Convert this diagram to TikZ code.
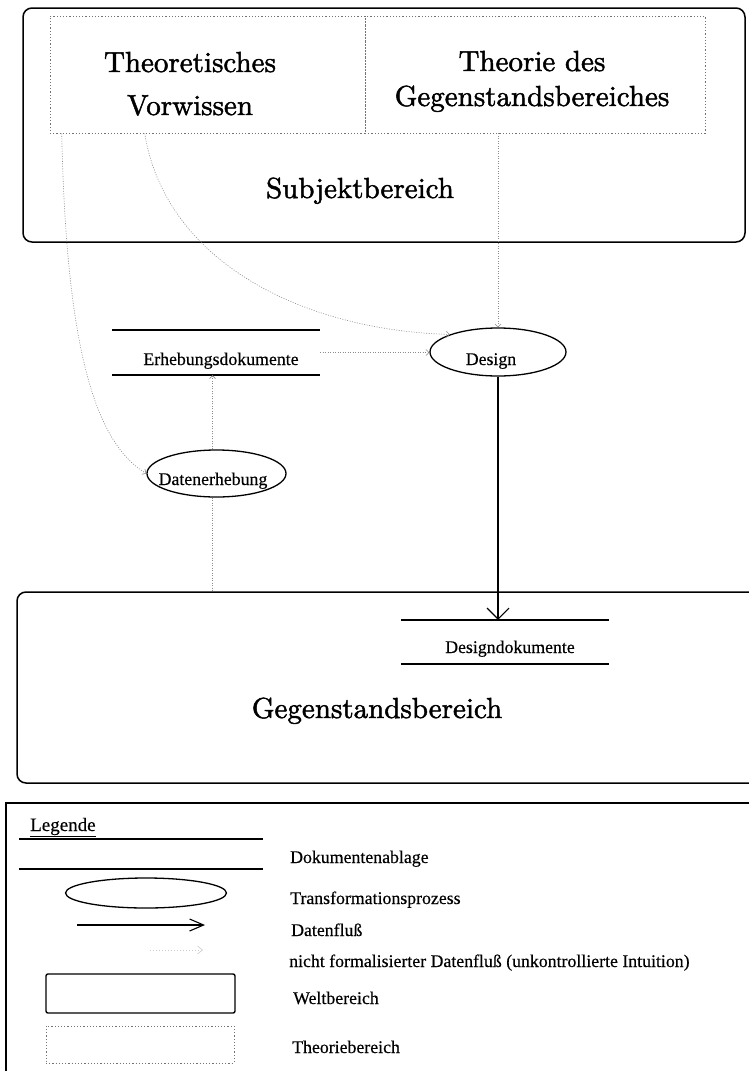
\documentclass[tikz,border=0pt]{standalone}
\usepackage{fontspec}
\newfontfamily\tm[FakeBold=0.4]{Liberation Serif}
\newfontfamily\bigfont[FakeBold=1.6]{lmroman10-regular.otf}
\usetikzlibrary{arrows.meta,calc,shapes.geometric}
\begin{document}
\begin{tikzpicture}[x=1pt,y=-1pt,
  world/.style={draw,line width=1.5pt,rounded corners=9pt,inner sep=0pt},
  theory/.style={draw=black!55,line width=0.6pt,dash pattern=on 1.2pt off 2pt,inner sep=0pt},
  proc/.style={draw,ellipse,line width=1.3pt,inner sep=0pt},
  docbox/.style={inner sep=0pt},
  docline/.style={line width=1.5pt},
  flow/.style={line width=1.1pt,-{Straight Barb[length=11pt,width=22pt,line width=1.1pt]}},
  intuit/.style={black!45,line width=0.6pt,dash pattern=on 1pt off 1.5pt},
  itip/.style={-{Straight Barb[length=3pt,width=6pt,line width=0.6pt]}},
  big/.style={font=\bigfont\fontsize{29}{34}\selectfont,inner sep=0pt,anchor=base},
  small/.style={font=\tm\fontsize{17.8}{20}\selectfont,inner sep=0pt,anchor=base},
  legtext/.style={font=\tm\fontsize{17.8}{20}\selectfont,inner sep=0pt,anchor=base west}
]
\useasboundingbox (0,0) rectangle (749,1071);
\clip (0,0) rectangle (749,1071);

% Subjektbereich
\node[world,minimum width=722pt,minimum height=234pt] (subj) at (384,125) {};
\node[theory,minimum width=315pt,minimum height=117pt] (tv) at (207.5,74.5) {};
\node[theory,minimum width=340pt,minimum height=117pt] (tg) at (535,74.5) {};
\node[big] (tvl1) at (190,72) {Theoretisches};
\node[big] (tvl2) at (190,115) {Vorwissen};
\node[big] (tgl1) at (532,71) {Theorie des};
\node[big] (tgl2) at (532,106) {Gegenstandsbereiches};
\node[big] (subjl) at (360,198) {Subjektbereich};

% Erhebungsdokumente
\node[docbox,minimum width=208pt,minimum height=45pt] (erh) at (216,352.5) {};
\draw[docline] (erh.north west) -- (erh.north east);
\draw[docline] (erh.south west) -- (erh.south east);
\node[small] (erhl) at (221,365) {Erhebungsdokumente};

% Design
\node[proc,minimum width=136pt,minimum height=48pt] (design) at (498,352) {};
\node[small] (designl) at (491,365) {Design};

% Datenerhebung
\node[proc,minimum width=139pt,minimum height=47pt] (de) at (216.5,473.5) {};
\node[small] (del) at (213,485) {Datenerhebung};

% Gegenstandsbereich
\node[world,minimum width=743pt,minimum height=191pt] (gg) at (388.5,687.5) {};
\node[big] (ggl) at (377,718) {Gegenstandsbereich};

% Designdokumente
\node[docbox,minimum width=208pt,minimum height=44pt] (dd) at (505,642) {};
\draw[docline] (dd.north west) -- (dd.north east);
\draw[docline] (dd.south west) -- (dd.south east);
\node[small] (ddl) at (510,653) {Designdokumente};

% connectors
\coordinate (dtop) at ([xshift=-4pt]de.north);
\coordinate (dbot) at ([xshift=-4pt]de.south);
\draw[intuit,itip] (tg.south -| design.north) -- (design.north);
\draw[intuit,itip] ([xshift=95pt]tv.south west) .. controls (165,260) and (300,330) .. (design.160);
\draw[intuit,itip] ([xshift=12pt]tv.south west) .. controls (66,330) and (90,440) .. (de.west);
\draw[intuit,itip] (erh.east) -- (erh.east -| design.west);
\draw[intuit,itip] (dtop) -- (dtop |- erh.south);
\draw[intuit] (dbot) -- (dbot |- gg.north);
\draw[flow] (design.south) -- (design.south |- dd.north);

% Legend
\node[draw,line width=1.4pt,inner sep=0pt,minimum width=754pt,minimum height=287pt] (leg) at (383,946.5) {};
\node[font=\tm\fontsize{19}{22}\selectfont,inner sep=0pt,anchor=base west] (legl) at (30,831) {\underline{Legende}};
\node[docbox,minimum width=244pt,minimum height=30pt] (legdoc) at (141,854) {};
\draw[docline] (legdoc.north west) -- (legdoc.north east);
\draw[docline] (legdoc.south west) -- (legdoc.south east);
\node[legtext] (t1) at (290,863) {Dokumentenablage};
\node[proc,minimum width=161pt,minimum height=30pt] (legproc) at (146,893) {};
\node[legtext] (t2) at (290,904) {Transformationsprozess};
\coordinate (lf1) at (77,925);
\coordinate (lf2) at (205,925);
\draw[line width=1.1pt,-{Straight Barb[length=14pt,width=12pt,line width=1.1pt]}] (lf1) -- (lf2);
\node[legtext] (t3) at (291,936) {Datenfluß};
\coordinate (li1) at (150,950);
\coordinate (li2) at (203,950);
\draw[black!20,line width=0.6pt,dash pattern=on 1pt off 2pt,-{Straight Barb[length=5pt,width=8pt,line width=0.6pt]}] (li1) -- (li2);
\node[legtext] (t4) at (289,967) {nicht formalisierter Datenfluß (unkontrollierte Intuition)};
\node[draw,line width=1.4pt,rounded corners=2pt,inner sep=0pt,minimum width=189pt,minimum height=39pt] (legworld) at (140.5,993.5) {};
\node[legtext] (t5) at (293,1004) {Weltbereich};
\node[theory,minimum width=188pt,minimum height=37pt] (legtheory) at (140,1044.5) {};
\node[legtext] (t6) at (292,1053) {Theoriebereich};
\end{tikzpicture}
\end{document}
